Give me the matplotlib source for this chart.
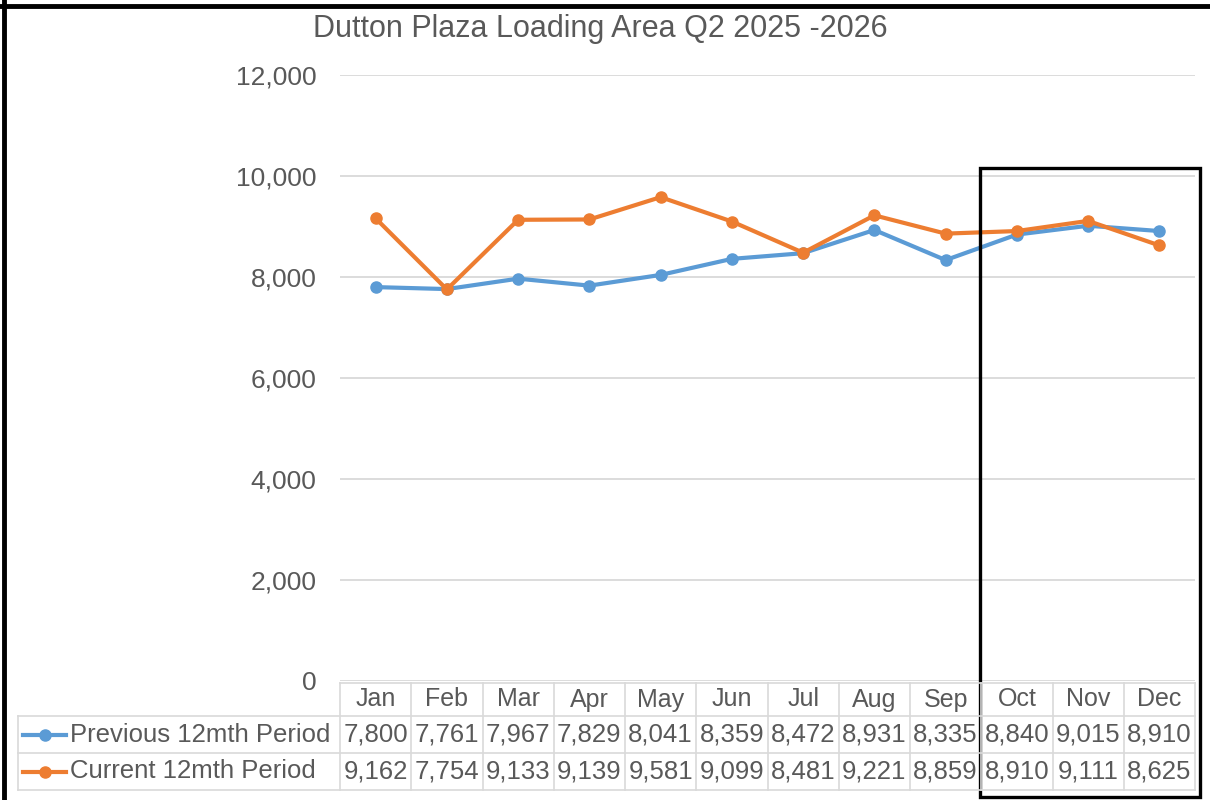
import matplotlib
matplotlib.use("Agg")
import matplotlib.pyplot as plt
from matplotlib.lines import Line2D
from matplotlib.patches import Rectangle
from matplotlib.transforms import blended_transform_factory

months = ["Jan", "Feb", "Mar", "Apr", "May", "Jun", "Jul", "Aug", "Sep", "Oct", "Nov", "Dec"]
previous = [7800, 7761, 7967, 7829, 8041, 8359, 8472, 8931, 8335, 8840, 9015, 8910]
current = [9162, 7754, 9133, 9139, 9581, 9099, 8481, 9221, 8859, 8910, 9111, 8625]
series_names = ["Previous 12mth Period", "Current 12mth Period"]
y_ticks = [0, 2000, 4000, 6000, 8000, 10000, 12000]

BLUE = "#5B9BD5"
ORANGE = "#ED7D31"
TEXT = "#595959"
GRID = "#D9D9D9"

W, H = 1210, 800


def fx(px):
    return px / W


def fy(py):
    # pixel row from the top -> figure fraction
    return 1 - py / H


def main():
    plt.rcParams["font.family"] = ["Liberation Sans", "DejaVu Sans"]
    fig = plt.figure(figsize=(12.1, 8), dpi=100)
    ax = fig.add_axes([fx(340), fy(681), fx(1195) - fx(340), fy(75) - fy(681)])

    x = list(range(len(months)))
    ax.plot(x, previous, color=BLUE, lw=3, marker="o", ms=8, zorder=3)
    ax.plot(x, current, color=ORANGE, lw=3, marker="o", ms=8, zorder=3)

    ax.set_xlim(-0.5, len(months) - 0.5)
    ax.set_ylim(0, 12000)
    ax.set_yticks(y_ticks)
    ax.set_yticklabels([f"{v:,}" for v in y_ticks])
    ax.tick_params(axis="y", length=0, pad=17, labelsize=19, labelcolor=TEXT)
    ax.set_xticks([])
    for s in ax.spines.values():
        s.set_visible(False)
    ax.grid(axis="y", color=GRID, lw=1.3)
    ax.set_axisbelow(True)

    fig.text(fx(600), fy(29), "Dutton Plaza Loading Area Q2 2025 -2026",
             ha="center", va="center", fontsize=22, color=TEXT)

    # data table under the axis
    tr = blended_transform_factory(ax.transData, fig.transFigure)
    row_edges = [683, 716, 753, 790]
    tbl_left = 18
    for i, yy in enumerate(row_edges):
        x0 = fx(340) if i == 0 else fx(tbl_left)
        fig.add_artist(Line2D([x0, fx(1195)], [fy(yy), fy(yy)], color=GRID, lw=1.2))
    for j in range(len(months) + 1):
        xd = j - 0.5
        fig.add_artist(Line2D([xd, xd], [fy(683), fy(790)], color=GRID, lw=1.2, transform=tr))
    fig.add_artist(Line2D([fx(tbl_left), fx(tbl_left)], [fy(716), fy(790)], color=GRID, lw=1.2))

    row_mid = [(row_edges[k] + row_edges[k + 1]) / 2 for k in range(3)]
    for j, m in enumerate(months):
        fig.text(j, fy(row_mid[0]), m, transform=tr, ha="center", va="center",
                 fontsize=18, color=TEXT)
        fig.text(j, fy(row_mid[1]), f"{previous[j]:,}", transform=tr, ha="center",
                 va="center", fontsize=18.5, color=TEXT)
        fig.text(j, fy(row_mid[2]), f"{current[j]:,}", transform=tr, ha="center",
                 va="center", fontsize=18.5, color=TEXT)

    for k, (name, col) in enumerate(zip(series_names, [BLUE, ORANGE])):
        yk = fy(row_mid[k + 1])
        fig.add_artist(Line2D([fx(23), fx(66)], [yk, yk], color=col, lw=3))
        fig.add_artist(Line2D([fx(44.5)], [yk], color=col, marker="o", ms=8))
        fig.text(fx(70), yk, name, ha="left", va="center", fontsize=18.5, color=TEXT)

    # highlight box around Oct-Dec and the outer frame
    fig.add_artist(Rectangle((fx(980), fy(797)), fx(1200) - fx(980), fy(168) - fy(797),
                             fill=False, ec="black", lw=2.4))
    fig.add_artist(Line2D([fx(4), fx(4)], [0, 1], color="black", lw=3.5))
    fig.add_artist(Line2D([0, 1], [fy(6), fy(6)], color="black", lw=3.5))

    fig.savefig("out.png", dpi=100)


if __name__ == "__main__":
    main()
